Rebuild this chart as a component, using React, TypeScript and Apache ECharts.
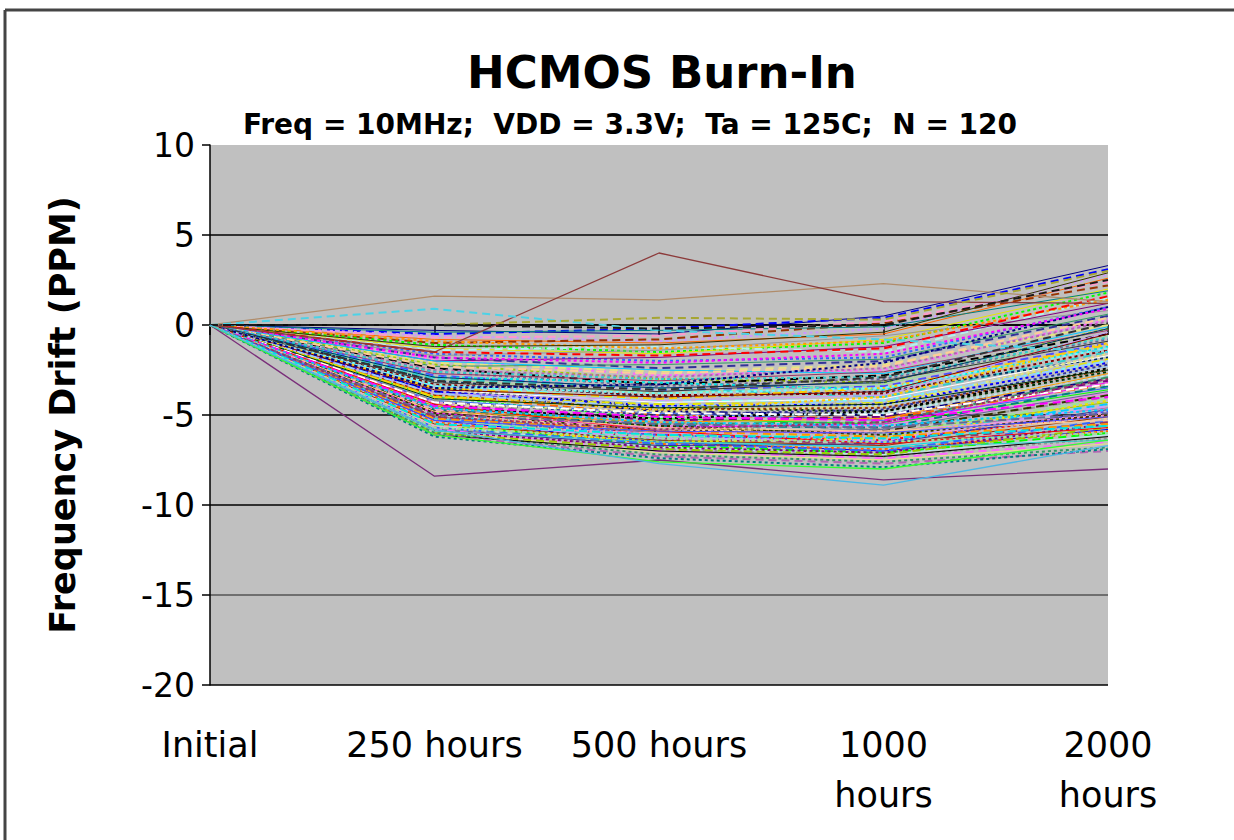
import React, { useEffect, useRef } from "react";
import * as echarts from "echarts";

const categories = ["Initial", "250 hours", "500 hours", "1000\nhours", "2000\nhours"];
const yMin = -20;
const yMax = 10;
const yStep = 5;
const initialDrift = 0;

// drift (PPM) of each device at 250, 500, 1000 and 2000 hours
const upperDevices: number[][] = [
  [-0.3, -0.5, 0.5, 3.3],
  [-0.5, -0.2, 0.4, 3.1],
  [-0.6, -0.9, -0.2, 2.8],
  [-0.8, -1.0, -0.5, 2.6],
  [-1.0, -0.8, 0.1, 2.2],
  [-1.1, -1.5, -1.0, 1.8],
  [-1.3, -1.6, -0.8, 2.0],
  [-1.4, -1.2, -1.5, 1.5],
  [-1.6, -2.0, -1.8, 1.0],
  [-1.7, -1.4, -0.6, 0.8],
  [-1.8, -2.4, -2.0, 0.5],
  [-1.9, -2.8, -2.5, 0.3],
  [-2.0, -1.8, -1.2, 1.2],
  [-2.1, -2.6, -2.2, 0.0],
  [-2.2, -3.0, -3.2, -0.2],
  [-2.3, -2.2, -1.9, 0.6],
  [-2.4, -3.3, -2.8, -0.5],
  [-2.5, -2.9, -2.4, 0.2],
  [-0.4, -0.3, -0.1, 1.9],
  [-0.7, -0.6, 0.2, 2.4],
  [-0.9, -1.3, -0.9, 1.4],
  [-1.2, -1.1, -0.4, 2.9],
  [-1.5, -1.7, -1.3, 1.6],
  [-1.8, -2.1, -1.6, 0.9],
  [-2.0, -2.5, -2.7, -0.1],
  [-2.3, -2.7, -2.3, 0.4],
];

const middleDevices: number[][] = [
  [-2.6, -3.4, -3.0, -0.8],
  [-2.7, -3.1, -2.6, -0.3],
  [-2.8, -3.6, -3.4, -1.0],
  [-2.9, -3.2, -3.6, -1.2],
  [-3.0, -3.8, -3.3, -0.6],
  [-3.0, -3.5, -4.0, -1.5],
  [-3.1, -4.0, -3.7, -1.8],
  [-3.2, -3.7, -3.1, -0.9],
  [-3.3, -4.2, -4.2, -2.0],
  [-3.3, -3.9, -3.8, -1.4],
  [-3.4, -4.4, -4.5, -2.3],
  [-3.5, -4.1, -3.5, -1.1],
  [-3.5, -4.6, -4.8, -2.6],
  [-3.6, -4.3, -4.1, -1.7],
  [-3.7, -4.8, -5.0, -3.0],
  [-3.7, -4.5, -4.4, -2.1],
  [-3.8, -4.2, -3.9, -0.4],
  [-3.9, -5.0, -5.2, -3.3],
  [-3.9, -4.7, -4.6, -2.5],
  [-4.0, -5.2, -5.5, -3.6],
  [-4.0, -4.4, -4.3, -1.9],
  [-4.1, -5.1, -4.9, -2.8],
  [-4.2, -4.9, -5.3, -3.5],
  [-4.2, -5.4, -5.8, -4.0],
  [-4.3, -5.0, -4.7, -2.2],
  [-4.3, -5.6, -5.6, -3.8],
  [-4.4, -5.3, -5.1, -3.1],
  [-4.4, -4.8, -4.5, -1.6],
  [-4.5, -5.7, -6.0, -4.3],
  [-4.5, -5.5, -5.4, -2.9],
  [-4.6, -5.2, -4.8, -2.4],
  [-4.6, -5.8, -6.1, -4.6],
  [-4.7, -5.6, -5.7, -3.4],
  [-4.7, -6.0, -6.3, -4.9],
  [-4.8, -5.4, -5.2, -2.7],
  [-4.8, -5.9, -5.9, -3.9],
  [-4.9, -6.1, -6.4, -5.0],
  [-4.9, -5.7, -5.5, -3.2],
  [-5.0, -6.2, -6.2, -4.4],
  [-5.0, -5.8, -6.0, -5.2],
  [-5.1, -6.0, -5.8, -3.7],
  [-5.1, -6.3, -6.6, -5.4],
  [-5.2, -6.1, -6.5, -4.8],
  [-5.2, -6.4, -6.8, -5.6],
  [-5.3, -6.2, -6.1, -4.1],
  [-2.6, -3.0, -2.9, -0.7],
  [-2.9, -3.5, -3.2, -0.2],
  [-3.1, -3.6, -2.9, 0.1],
  [-3.4, -3.8, -3.5, -1.3],
  [-3.6, -4.0, -3.7, -0.5],
  [-3.8, -4.6, -4.2, -2.0],
  [-4.0, -4.7, -4.0, -1.0],
  [-4.1, -4.6, -4.4, -2.5],
  [-4.3, -4.9, -5.0, -3.3],
  [-3.5, -3.3, -2.1, 1.0],
];

const lowerDevices: number[][] = [
  [-5.3, -6.5, -7.0, -5.8],
  [-5.4, -6.3, -6.4, -4.5],
  [-5.4, -6.6, -6.9, -5.9],
  [-5.5, -6.4, -6.7, -5.1],
  [-5.5, -6.7, -7.1, -6.0],
  [-5.6, -6.5, -6.3, -4.2],
  [-5.6, -6.8, -7.2, -6.1],
  [-5.7, -6.6, -7.0, -5.3],
  [-5.7, -6.9, -7.3, -6.3],
  [-5.8, -6.7, -6.6, -4.7],
  [-5.8, -7.0, -7.4, -6.5],
  [-5.9, -6.8, -7.1, -5.5],
  [-5.9, -7.1, -7.5, -6.6],
  [-6.0, -6.9, -7.2, -5.7],
  [-6.0, -7.2, -7.6, -6.8],
  [-6.1, -7.0, -7.3, -6.2],
  [-6.1, -7.3, -7.7, -7.0],
  [-6.2, -7.4, -7.9, -6.9],
  [-5.6, -6.0, -5.9, -5.0],
  [-5.2, -5.9, -6.2, -5.5],
  [-4.9, -5.6, -6.1, -5.0],
  [-4.4, -5.9, -6.6, -5.7],
  [-4.5, -5.1, -5.3, -4.0],
  [-4.6, -5.4, -5.6, -4.7],
  [-4.8, -5.7, -5.9, -5.3],
  [-5.0, -5.5, -5.7, -4.9],
  [-5.1, -5.8, -5.4, -3.0],
  [-5.3, -5.9, -6.0, -5.1],
  [-5.5, -6.1, -6.3, -5.6],
  [-5.7, -6.3, -6.5, -6.0],
  [-5.9, -6.5, -6.8, -6.4],
];

// devices whose traces stand out from the bundle
const outlierDevices: number[][] = [
  [1.6, 1.4, 2.3, 1.3],
  [-1.5, 4.0, 1.3, 1.2],
  [-8.4, -7.5, -8.6, -8.0],
  [-6.1, -7.6, -8.0, -6.4],
  [0.9, -0.3, -0.8, -1.5],
  [0.0, 0.4, 0.3, 3.0],
  [0.0, -0.2, 0.0, 2.5],
  [-5.8, -7.7, -8.9, -6.7],
];

const palette = [
  "#000080", "#FF00FF", "#E6E600", "#00E5E5", "#800080", "#800000", "#008080", "#0000FF",
  "#00CCFF", "#B3F0F0", "#99E699", "#E6E680", "#99CCFF", "#FF99CC", "#CC99FF", "#FFCC99",
  "#3366FF", "#33CCCC", "#99CC00", "#FFCC00", "#FF9900", "#FF6600", "#666699", "#969696",
  "#003366", "#339966", "#003300", "#333300", "#993300", "#993366", "#333399", "#333333",
  "#000000", "#FFFFFF", "#FF0000", "#00FF00", "#4D4DFF", "#FF66FF", "#66FFFF", "#B366B3",
];
const outlierColors = ["#B08C6A", "#8C3A3A", "#7A2E7A", "#33FF33", "#4DD2E6", "#A6A633", "#1A1A1A", "#4DB8E6"];
const outlierTypes = ["solid", "solid", "solid", "solid", "dashed", "dashed", "dashed", "solid"];

const FONT = "DejaVu Sans, Verdana, sans-serif";

export default function App() {
  const ref = useRef<HTMLDivElement>(null);

  useEffect(() => {
    if (!ref.current) return;
    const chart = echarts.init(ref.current, undefined, { renderer: "svg" });

    const bundle = [...upperDevices, ...middleDevices, ...lowerDevices];
    const series: any[] = [];
    bundle.forEach((d, i) => {
      const group = i % 3;
      const type = group === 0 ? "solid" : group === 1 ? [8, 5] : [3, 3];
      series.push({
        type: "line",
        data: [initialDrift, ...d],
        symbol: "none",
        silent: true,
        lineStyle: {
          color: palette[(i * 7) % palette.length],
          width: group === 0 ? 1 : 2,
          type,
        },
      });
    });
    outlierDevices.forEach((d, i) => {
      series.push({
        type: "line",
        data: [initialDrift, ...d],
        symbol: "none",
        silent: true,
        lineStyle: {
          color: outlierColors[i],
          width: outlierTypes[i] === "solid" ? 1.3 : 2,
          type: outlierTypes[i] === "solid" ? "solid" : [8, 5],
        },
      });
    });

    chart.setOption({
      animation: false,
      backgroundColor: "#ffffff",
      title: [
        {
          text: "HCMOS Burn-In",
          left: 657,
          top: 45,
          textAlign: "center",
          textStyle: {
            fontFamily: FONT,
            fontWeight: "bold",
            fontSize: 45,
            color: "#000",
          },
        },
        {
          text: "Freq = 10MHz;  VDD = 3.3V;  Ta = 125C;  N = 120",
          left: 625,
          top: 105,
          textAlign: "center",
          textStyle: {
            fontFamily: FONT,
            fontWeight: "bold",
            fontSize: 28,
            color: "#000",
          },
        },
      ],
      grid: {
        left: 210,
        right: 126,
        top: 145,
        bottom: 155,
        show: true,
        backgroundColor: "#C0C0C0",
        borderWidth: 0,
      },
      xAxis: {
        type: "category",
        data: categories,
        boundaryGap: false,
        axisLine: { lineStyle: { color: "#000", width: 1.5 } },
        axisTick: { show: true, length: 10, lineStyle: { color: "#000", width: 1.5 } },
        axisLabel: {
          fontFamily: FONT,
          fontSize: 35,
          lineHeight: 50,
          color: "#000",
          margin: 35,
          interval: 0,
        },
        splitLine: { show: false },
      },
      yAxis: {
        type: "value",
        min: yMin,
        max: yMax,
        interval: yStep,
        name: "Frequency Drift (PPM)",
        nameLocation: "middle",
        nameRotate: 90,
        nameGap: 130,
        nameTextStyle: {
          fontFamily: FONT,
          fontWeight: "bold",
          fontSize: 35,
          color: "#000",
        },
        axisLine: { show: true, lineStyle: { color: "#000", width: 1.5 } },
        axisTick: { show: true, length: 8, inside: false, lineStyle: { color: "#000", width: 1.5 } },
        axisLabel: {
          fontFamily: FONT,
          fontSize: 33,
          color: "#000",
          margin: 15,
        },
        splitLine: {
          show: true,
          lineStyle: {
            color: ["#000", "#555", "#000", "#000", "#000", "#000", "transparent"],
            width: 1.5,
          },
        },
      },
      graphic: [
        {
          type: "line",
          shape: { x1: 5, y1: 10, x2: 1234, y2: 10 },
          style: { stroke: "#444", lineWidth: 3 },
          silent: true,
        },
        {
          type: "line",
          shape: { x1: 5, y1: 10, x2: 5, y2: 840 },
          style: { stroke: "#444", lineWidth: 3 },
          silent: true,
        },
      ],
      series,
    });

    return () => chart.dispose();
  }, []);

  return (
    <div
      ref={ref}
      style={{ position: "fixed", left: 0, top: 0, width: 1234, height: 840, background: "#fff" }}
    />
  );
}
